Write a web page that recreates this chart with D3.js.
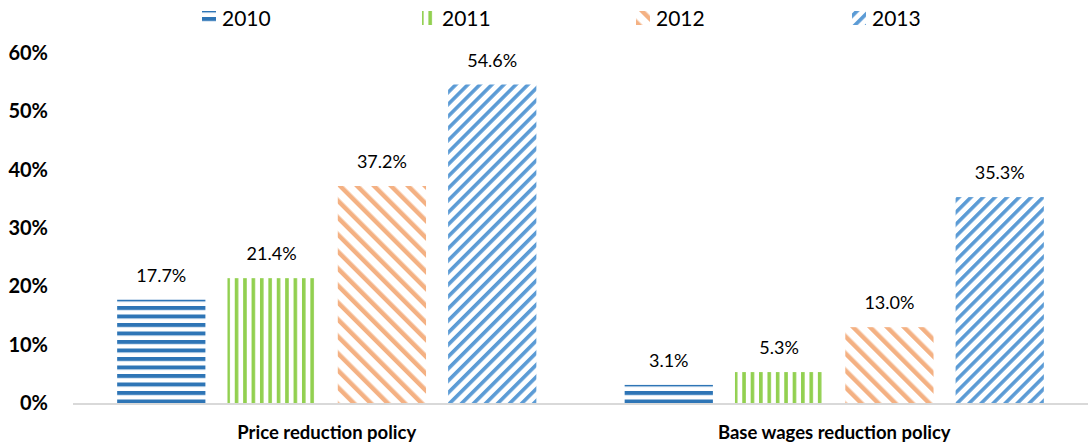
<!DOCTYPE html>
<html>
<head>
<meta charset="utf-8">
<script src="https://cdn.jsdelivr.net/npm/d3@7"></script>
<style>
  body { margin: 0; background: #fff; }
  text { font-family: Lato, "Open Sans", sans-serif; }
</style>
</head>
<body>
<svg id="drawing_region"></svg>
<script>
var categories = ['Price reduction policy', 'Base wages reduction policy'];
var years = ['2010', '2011', '2012', '2013'];
var v2010 = [17.7, 3.1];
var v2011 = [21.4, 5.3];
var v2012 = [37.2, 13.0];
var v2013 = [54.6, 35.3];
var yTicks = [0, 10, 20, 30, 40, 50, 60];

var series = [v2010, v2011, v2012, v2013];
var colors = ['#2E75B6', '#92D050', '#F4B183', '#5B9BD5'];

var width = 1092;
var height = 446;
var margin = {top: 53, right: 4, bottom: 43, left: 73};

var svg = d3.select('#drawing_region')
    .attr('width', width)
    .attr('height', height);

// fill patterns
var defs = svg.append('defs');

var p0 = defs.append('pattern').attr('id', 'pat0')
    .attr('patternUnits', 'userSpaceOnUse').attr('width', 8).attr('height', 8.5);
p0.append('rect').attr('x', 0).attr('y', 0).attr('width', 8).attr('height', 4).attr('fill', colors[0]);

var p1 = defs.append('pattern').attr('id', 'pat1')
    .attr('patternUnits', 'userSpaceOnUse').attr('width', 8.4).attr('height', 8);
p1.append('rect').attr('x', 0).attr('y', 0).attr('width', 3.6).attr('height', 8).attr('fill', colors[1]);

var p2 = defs.append('pattern').attr('id', 'pat2')
    .attr('patternUnits', 'userSpaceOnUse').attr('width', 12).attr('height', 12)
    .attr('patternTransform', 'rotate(-45)');
p2.append('rect').attr('x', 0).attr('y', 0).attr('width', 4.5).attr('height', 12).attr('fill', colors[2]);

var p3 = defs.append('pattern').attr('id', 'pat3')
    .attr('patternUnits', 'userSpaceOnUse').attr('width', 8.5).attr('height', 8.5)
    .attr('patternTransform', 'rotate(45)');
p3.append('rect').attr('x', 0).attr('y', 0).attr('width', 3.6).attr('height', 8.5).attr('fill', colors[3]);

var x0 = d3.scaleBand()
    .domain(categories)
    .range([margin.left, width - margin.right])
    .paddingInner(0.174)
    .paddingOuter(0.087);

var x1 = d3.scaleBand()
    .domain(years)
    .range([0, x0.bandwidth()])
    .paddingInner(0.2);

var y = d3.scaleLinear()
    .domain([0, 60])
    .range([height - margin.bottom, margin.top]);

// y axis labels
var yAxis = svg.append('g')
    .attr('transform', `translate(${margin.left - 22}, 0)`)
    .call(d3.axisLeft(y).tickValues(yTicks).tickFormat(d => d + '%').tickSize(0));
yAxis.select('.domain').remove();
yAxis.selectAll('text')
    .style('font-family', 'Lato, sans-serif')
    .style('font-size', '20px')
    .style('font-weight', 'bold')
    .style('fill', '#000');

// bars
var groups = svg.selectAll('.grp')
    .data(categories)
    .enter()
    .append('g')
    .attr('transform', d => `translate(${x0(d)}, 0)`);

groups.each(function(cat, ci) {
    var g = d3.select(this);
    years.forEach(function(yr, si) {
        var v = series[si][ci];
        g.append('rect')
            .attr('x', x1(yr))
            .attr('y', y(v))
            .attr('width', x1.bandwidth())
            .attr('height', y(0) - y(v))
            .attr('fill', 'url(#pat' + si + ')');
        g.append('text')
            .attr('x', x1(yr) + x1.bandwidth() / 2)
            .attr('y', y(v) - 18)
            .attr('text-anchor', 'middle')
            .style('font-size', '18px')
            .style('fill', '#000')
            .text(v.toFixed(1) + '%');
    });
});

// baseline
svg.append('line')
    .attr('x1', margin.left)
    .attr('x2', width - margin.right)
    .attr('y1', y(0) + 1)
    .attr('y2', y(0) + 1)
    .attr('stroke', '#D9D9D9')
    .attr('stroke-width', 2);

// x axis labels
var xAxis = svg.append('g')
    .attr('transform', `translate(0, ${y(0) + 20})`)
    .call(d3.axisBottom(x0).tickSize(0));
xAxis.select('.domain').remove();
xAxis.selectAll('text')
    .style('font-family', 'Lato, sans-serif')
    .style('font-size', '18.5px')
    .style('font-weight', 'bold')
    .style('fill', '#000');

// legend
var legendX = [202, 422, 636, 852];
var legend = svg.append('g');
years.forEach(function(yr, i) {
    legend.append('rect')
        .attr('x', legendX[i])
        .attr('y', 11)
        .attr('width', 14)
        .attr('height', 14)
        .attr('fill', 'url(#pat' + i + ')');
    legend.append('text')
        .attr('x', legendX[i] + 20)
        .attr('y', 26)
        .style('font-size', '21px')
        .style('fill', '#000')
        .text(yr);
});
</script>
</body>
</html>
